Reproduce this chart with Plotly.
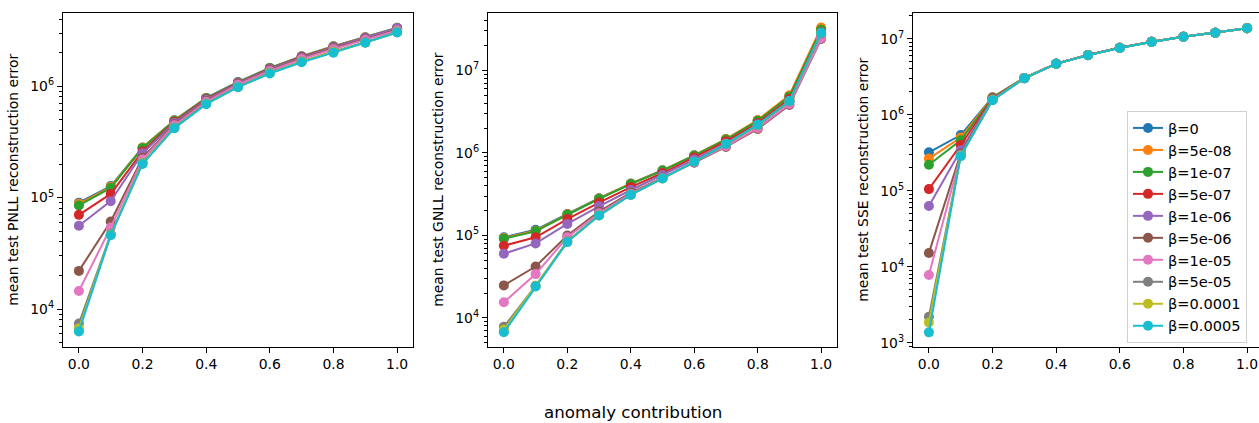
import plotly.graph_objects as go

# ---------------- data ----------------
x_vals = [0.0, 0.1, 0.2, 0.3, 0.4, 0.5, 0.6, 0.7, 0.8, 0.9, 1.0]
beta_labels = ["β=0", "β=5e-08", "β=1e-07", "β=5e-07", "β=1e-06",
               "β=5e-06", "β=1e-05", "β=5e-05", "β=0.0001", "β=0.0005"]
colors = ["#1f77b4", "#ff7f0e", "#2ca02c", "#d62728", "#9467bd",
          "#8c564b", "#e377c2", "#7f7f7f", "#bcbd22", "#17becf"]

pnll = [
    [90000, 127000, 282000, 495000, 785000, 1.09e6, 1.46e6, 1.86e6, 2.28e6, 2.75e6, 3.35e6],
    [88000, 125000, 280000, 492000, 780000, 1.08e6, 1.45e6, 1.85e6, 2.27e6, 2.73e6, 3.33e6],
    [85000, 122000, 278000, 490000, 778000, 1.08e6, 1.45e6, 1.84e6, 2.26e6, 2.72e6, 3.32e6],
    [70000, 108000, 260000, 480000, 765000, 1.07e6, 1.43e6, 1.83e6, 2.24e6, 2.70e6, 3.30e6],
    [56000, 93000, 250000, 470000, 755000, 1.06e6, 1.42e6, 1.81e6, 2.23e6, 2.70e6, 3.32e6],
    [22000, 61000, 228000, 455000, 735000, 1.04e6, 1.39e6, 1.77e6, 2.18e6, 2.63e6, 3.20e6],
    [14500, 54000, 220000, 445000, 725000, 1.03e6, 1.37e6, 1.75e6, 2.15e6, 2.60e6, 3.17e6],
    [7400, 47000, 205000, 425000, 700000, 990000, 1.32e6, 1.67e6, 2.05e6, 2.48e6, 3.06e6],
    [6700, 46500, 203000, 422000, 695000, 985000, 1.31e6, 1.66e6, 2.03e6, 2.46e6, 3.05e6],
    [6300, 46000, 200000, 420000, 690000, 980000, 1.30e6, 1.64e6, 2.00e6, 2.45e6, 3.03e6],
]

gnll = [
    [95000, 117000, 182000, 282000, 425000, 615000, 935000, 1.46e6, 2.45e6, 4.9e6, 3.15e7],
    [93000, 114000, 180000, 280000, 423000, 612000, 930000, 1.47e6, 2.50e6, 5.0e6, 3.30e7],
    [91000, 112000, 178000, 277000, 420000, 608000, 925000, 1.45e6, 2.45e6, 4.8e6, 3.10e7],
    [75000, 95000, 158000, 250000, 385000, 570000, 880000, 1.38e6, 2.30e6, 4.5e6, 2.90e7],
    [60000, 80000, 138000, 225000, 355000, 540000, 830000, 1.30e6, 2.15e6, 4.2e6, 2.70e7],
    [24800, 42000, 100000, 195000, 330000, 500000, 760000, 1.18e6, 1.95e6, 3.8e6, 2.40e7],
    [15500, 34000, 95000, 185000, 320000, 495000, 765000, 1.20e6, 2.00e6, 3.9e6, 2.45e7],
    [7800, 24500, 85000, 176000, 312000, 492000, 780000, 1.27e6, 2.15e6, 4.2e6, 2.80e7],
    [7200, 24200, 84000, 175000, 311000, 490000, 780000, 1.28e6, 2.18e6, 4.25e6, 2.85e7],
    [6700, 24000, 83000, 174000, 310000, 490000, 780000, 1.28e6, 2.20e6, 4.25e6, 2.85e7],
]

sse = [
    [320000, 540000, 1.70e6, 3.05e6, 4.70e6, 6.10e6, 7.60e6, 9.10e6, 1.06e7, 1.20e7, 1.37e7],
    [265000, 500000, 1.68e6, 3.05e6, 4.70e6, 6.10e6, 7.60e6, 9.10e6, 1.06e7, 1.20e7, 1.37e7],
    [220000, 460000, 1.66e6, 3.04e6, 4.70e6, 6.10e6, 7.60e6, 9.10e6, 1.06e7, 1.20e7, 1.37e7],
    [105000, 400000, 1.63e6, 3.04e6, 4.69e6, 6.10e6, 7.60e6, 9.10e6, 1.06e7, 1.20e7, 1.37e7],
    [63000, 340000, 1.60e6, 3.03e6, 4.69e6, 6.09e6, 7.59e6, 9.09e6, 1.06e7, 1.20e7, 1.37e7],
    [15200, 310000, 1.58e6, 3.03e6, 4.68e6, 6.09e6, 7.59e6, 9.09e6, 1.06e7, 1.20e7, 1.37e7],
    [7800, 295000, 1.57e6, 3.02e6, 4.68e6, 6.08e6, 7.58e6, 9.08e6, 1.06e7, 1.20e7, 1.37e7],
    [2200, 290000, 1.56e6, 3.02e6, 4.68e6, 6.08e6, 7.58e6, 9.08e6, 1.06e7, 1.20e7, 1.37e7],
    [1850, 288000, 1.56e6, 3.02e6, 4.67e6, 6.08e6, 7.58e6, 9.08e6, 1.06e7, 1.20e7, 1.37e7],
    [1370, 285000, 1.55e6, 3.01e6, 4.67e6, 6.07e6, 7.57e6, 9.07e6, 1.06e7, 1.20e7, 1.37e7],
]

panel_titles = ["mean test PNLL reconstruction error",
                "mean test GNLL reconstruction error",
                "mean test SSE reconstruction error"]
x_tick_vals = [0.0, 0.2, 0.4, 0.6, 0.8, 1.0]
x_tick_text = ["0.0", "0.2", "0.4", "0.6", "0.8", "1.0"]
x_label = "anomaly contribution"

# ---------------- figure ----------------
W, H = 1259, 423
FONT = "DejaVu Sans"
FS = 13.9

fig = go.Figure()
datasets = [pnll, gnll, sse]
for p, data in enumerate(datasets):
    xa = "x" if p == 0 else f"x{p+1}"
    ya = "y" if p == 0 else f"y{p+1}"
    for i, (lab, col) in enumerate(zip(beta_labels, colors)):
        fig.add_trace(go.Scatter(
            x=x_vals, y=data[i], mode="lines+markers", name=lab,
            line=dict(color=col, width=2),
            marker=dict(color=col, size=10),
            xaxis=xa, yaxis=ya,
            showlegend=(p == 2), legendgroup=lab,
        ))

# pixel boxes (left, right) for each panel
px_boxes = [(63, 413), (488, 837), (913, 1259)]
x_ranges = [[-0.05, 1.05], [-0.05, 1.05], [-0.05, 1.0375]]
y_ranges = [[3.662, 6.658], [3.652, 7.696], [2.948, 7.34]]
y_major = [[1e4, 1e5, 1e6], [1e4, 1e5, 1e6, 1e7], [1e3, 1e4, 1e5, 1e6, 1e7]]
top_px, bot_px = 13, 350
ydom = [(H - bot_px) / H, (H - top_px) / H]


def minor_vals(lo, hi):
    vals = []
    for e in range(int(lo) - 1, int(hi) + 2):
        for m in range(2, 10):
            vals.append(m * 10 ** e)
    return vals


def sup(v):
    import math
    e = int(round(math.log10(v)))
    return f"10<sup>{e}</sup>"


layout = dict(
    width=W, height=H,
    margin=dict(l=0, r=0, t=0, b=0),
    paper_bgcolor="white", plot_bgcolor="white",
    font=dict(family=FONT, size=FS, color="black"),
    showlegend=True,
    legend=dict(
        x=1127 / W, y=(H - 112) / H, xanchor="left", yanchor="top",
        bgcolor="rgba(255,255,255,0.8)", bordercolor="#d0d0d0", borderwidth=1,
        font=dict(family=FONT, size=14.6), tracegroupgap=0,
        itemwidth=30,
    ),
)

for p in range(3):
    sx = "" if p == 0 else str(p + 1)
    l, r = px_boxes[p]
    layout[f"xaxis{sx}"] = dict(
        domain=[l / W, min(r / W, 1.0)], range=x_ranges[p],
        anchor=f"y{sx}", tickvals=x_tick_vals, ticktext=x_tick_text,
        ticks="outside", ticklen=5, tickwidth=1.1, tickcolor="black",
        showline=True, linecolor="black", linewidth=1.1, mirror=True,
        showgrid=False, zeroline=False,
        tickfont=dict(family=FONT, size=FS),
    )
    layout[f"yaxis{sx}"] = dict(
        domain=ydom, type="log", range=y_ranges[p],
        anchor=f"x{sx}", tickvals=y_major[p],
        ticktext=[sup(v) for v in y_major[p]],
        ticks="outside", ticklen=5, tickwidth=1.1, tickcolor="black",
        showline=True, linecolor="black", linewidth=1.1,
        mirror=(p != 2),
        showgrid=False, zeroline=False,
        tickfont=dict(family=FONT, size=FS),
        minor=dict(tickvals=minor_vals(*y_ranges[p]), ticks="outside",
                   ticklen=3, tickwidth=0.8, tickcolor="black", showgrid=False),
    )

fig.update_layout(**layout)

# y-axis titles as annotations
title_x = [13, 438, 863]
for p in range(3):
    fig.add_annotation(
        x=title_x[p] / W, y=(H - (top_px + bot_px) / 2) / H,
        xref="paper", yref="paper", text=panel_titles[p], textangle=-90,
        showarrow=False, font=dict(family=FONT, size=FS),
        xanchor="center", yanchor="middle",
    )

fig.add_annotation(
    x=633 / W, y=(H - 416) / H, xref="paper", yref="paper",
    text=x_label, showarrow=False,
    font=dict(family=FONT, size=16.7), xanchor="center", yanchor="middle",
)

fig.write_html("out.html")
